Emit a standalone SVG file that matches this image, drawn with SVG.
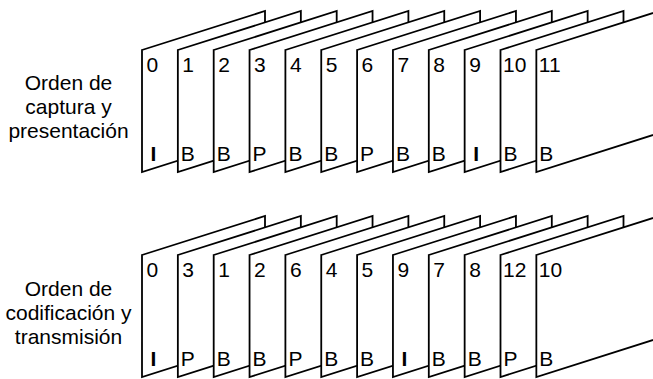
<svg xmlns="http://www.w3.org/2000/svg" width="653" height="379" viewBox="0 0 653 379">
<style>
.f{fill:#fff;stroke:#000;stroke-width:1.8;stroke-linejoin:miter}
.t{font-family:"Liberation Sans",Arial,sans-serif;font-size:21px;fill:#000}
.b{font-weight:bold}
.l{font-family:"Liberation Sans",Arial,sans-serif;font-size:21px;fill:#000;text-anchor:middle}
</style>
<defs>
<polygon id="fr" points="0,0 123,-39 123,83 0,122"/>
</defs>
<rect width="653" height="379" fill="#fff"/>
<g id="label1"><text class="l" x="68.5" y="90">Orden de</text><text class="l" x="68.5" y="114">captura y</text><text class="l" x="68.5" y="138">presentación</text></g>
<g id="label2"><text class="l" x="68.5" y="296">Orden de</text><text class="l" x="68.5" y="320">codificación y</text><text class="l" x="68.5" y="344">transmisión</text></g>
<g id="row1">
<g id="r1f0" transform="translate(142,50)"><use href="#fr" class="f"/><text class="t" x="4.5" y="21.5">0</text><text class="t b" x="8.5" y="110.5">I</text></g>
<g id="r1f1" transform="translate(177.85,50)"><use href="#fr" class="f"/><text class="t" x="4.5" y="21.5">1</text><text class="t" x="3" y="110.5">B</text></g>
<g id="r1f2" transform="translate(213.7,50)"><use href="#fr" class="f"/><text class="t" x="4.5" y="21.5">2</text><text class="t" x="3" y="110.5">B</text></g>
<g id="r1f3" transform="translate(249.55,50)"><use href="#fr" class="f"/><text class="t" x="4.5" y="21.5">3</text><text class="t" x="3" y="110.5">P</text></g>
<g id="r1f4" transform="translate(285.4,50)"><use href="#fr" class="f"/><text class="t" x="4.5" y="21.5">4</text><text class="t" x="3" y="110.5">B</text></g>
<g id="r1f5" transform="translate(321.25,50)"><use href="#fr" class="f"/><text class="t" x="4.5" y="21.5">5</text><text class="t" x="3" y="110.5">B</text></g>
<g id="r1f6" transform="translate(357.1,50)"><use href="#fr" class="f"/><text class="t" x="4.5" y="21.5">6</text><text class="t" x="3" y="110.5">P</text></g>
<g id="r1f7" transform="translate(392.95,50)"><use href="#fr" class="f"/><text class="t" x="4.5" y="21.5">7</text><text class="t" x="3" y="110.5">B</text></g>
<g id="r1f8" transform="translate(428.8,50)"><use href="#fr" class="f"/><text class="t" x="4.5" y="21.5">8</text><text class="t" x="3" y="110.5">B</text></g>
<g id="r1f9" transform="translate(464.65,50)"><use href="#fr" class="f"/><text class="t" x="4.5" y="21.5">9</text><text class="t b" x="8.5" y="110.5">I</text></g>
<g id="r1f10" transform="translate(500.5,50)"><use href="#fr" class="f"/><text class="t" x="2.5" y="21.5">10</text><text class="t" x="3" y="110.5">B</text></g>
<g id="r1f11" transform="translate(536.35,50)"><use href="#fr" class="f"/><text class="t" x="2.5" y="21.5">11</text><text class="t" x="3" y="110.5">B</text></g>
</g>
<g id="row2">
<g id="r2f0" transform="translate(142,255)"><use href="#fr" class="f"/><text class="t" x="4.5" y="21.5">0</text><text class="t b" x="8.5" y="111">I</text></g>
<g id="r2f1" transform="translate(177.85,255)"><use href="#fr" class="f"/><text class="t" x="4.5" y="21.5">3</text><text class="t" x="3" y="111">P</text></g>
<g id="r2f2" transform="translate(213.7,255)"><use href="#fr" class="f"/><text class="t" x="4.5" y="21.5">1</text><text class="t" x="3" y="111">B</text></g>
<g id="r2f3" transform="translate(249.55,255)"><use href="#fr" class="f"/><text class="t" x="4.5" y="21.5">2</text><text class="t" x="3" y="111">B</text></g>
<g id="r2f4" transform="translate(285.4,255)"><use href="#fr" class="f"/><text class="t" x="4.5" y="21.5">6</text><text class="t" x="3" y="111">P</text></g>
<g id="r2f5" transform="translate(321.25,255)"><use href="#fr" class="f"/><text class="t" x="4.5" y="21.5">4</text><text class="t" x="3" y="111">B</text></g>
<g id="r2f6" transform="translate(357.1,255)"><use href="#fr" class="f"/><text class="t" x="4.5" y="21.5">5</text><text class="t" x="3" y="111">B</text></g>
<g id="r2f7" transform="translate(392.95,255)"><use href="#fr" class="f"/><text class="t" x="4.5" y="21.5">9</text><text class="t b" x="8.5" y="111">I</text></g>
<g id="r2f8" transform="translate(428.8,255)"><use href="#fr" class="f"/><text class="t" x="4.5" y="21.5">7</text><text class="t" x="3" y="111">B</text></g>
<g id="r2f9" transform="translate(464.65,255)"><use href="#fr" class="f"/><text class="t" x="4.5" y="21.5">8</text><text class="t" x="3" y="111">B</text></g>
<g id="r2f10" transform="translate(500.5,255)"><use href="#fr" class="f"/><text class="t" x="2.5" y="21.5">12</text><text class="t" x="3" y="111">P</text></g>
<g id="r2f11" transform="translate(536.35,255)"><use href="#fr" class="f"/><text class="t" x="2.5" y="21.5">10</text><text class="t" x="3" y="111">B</text></g>
</g>
<g id="connectors"/>
</svg>
